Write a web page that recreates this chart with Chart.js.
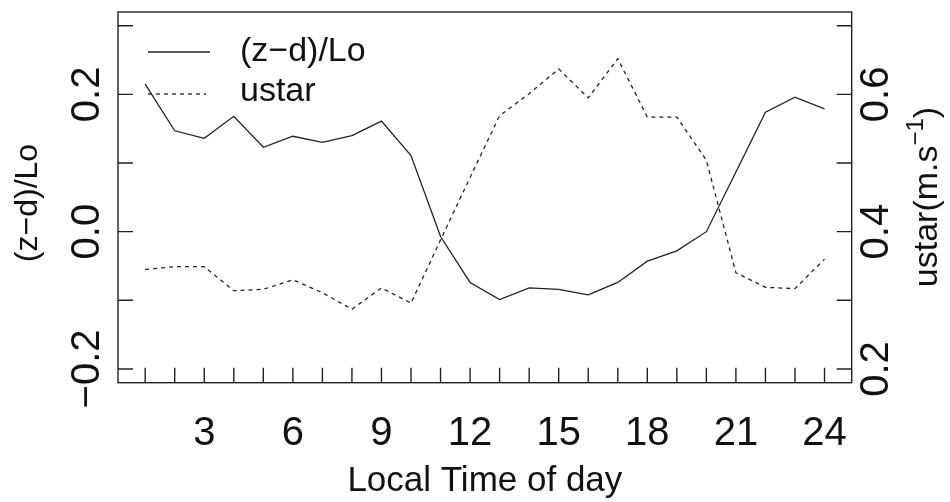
<!DOCTYPE html>
<html>
<head>
<meta charset="utf-8">
<script src="https://cdn.jsdelivr.net/npm/chart.js@4.4.0/dist/chart.umd.min.js"></script>
<style>
  html, body { margin: 0; padding: 0; background: #fff; }
  #wrap { width: 950px; height: 502px; }
</style>
</head>
<body>
<div id="wrap"><canvas id="c" width="950" height="502"></canvas></div>
<script>
// === DATA ===
const hours = [1, 2, 3, 4, 5, 6, 7, 8, 9, 10, 11, 12, 13, 14, 15, 16, 17, 18, 19, 20, 21, 22, 23, 24];
const zdLo = [0.215, 0.147, 0.136, 0.168, 0.123, 0.139, 0.130, 0.140, 0.161, 0.111, -0.007, -0.074,
              -0.099, -0.082, -0.084, -0.092, -0.074, -0.043, -0.028, 0.000, 0.087, 0.174, 0.196, 0.179];
const ustar = [0.345, 0.349, 0.349, 0.314, 0.316, 0.330, 0.311, 0.287, 0.318, 0.296, 0.388, 0.479,
               0.569, 0.601, 0.637, 0.595, 0.652, 0.567, 0.567, 0.504, 0.340, 0.319, 0.317, 0.360];
const xTicks = hours;
const xLabels = [3, 6, 9, 12, 15, 18, 21, 24];
const leftTicks = [-0.2, -0.1, 0.0, 0.1, 0.2, 0.3];
const leftLabels = [-0.2, 0.0, 0.2];
const rightTicks = [0.2, 0.3, 0.4, 0.5, 0.6, 0.7];
const rightLabels = [0.2, 0.4, 0.6];

const ink = '#222';
const fontFam = '"Liberation Sans", Arial, sans-serif';

function fmt(v) {
  const s = Math.abs(v).toFixed(1);
  return v < 0 ? '\u2212' + s : s;
}

// === R-STYLE AXES, BOX, LEGEND ===
const rStyle = {
  id: 'rStyle',
  afterDraw(chart) {
    const ctx = chart.ctx;
    const a = chart.chartArea;
    const sx = chart.scales.x, sy = chart.scales.y, sy1 = chart.scales.y1;
    const tl = 15;
    ctx.save();
    ctx.strokeStyle = ink;
    ctx.fillStyle = '#111';
    ctx.lineWidth = 1.4;
    ctx.setLineDash([]);
    ctx.strokeRect(a.left, a.top, a.right - a.left, a.bottom - a.top);

    ctx.beginPath();
    xTicks.forEach(v => {
      const px = sx.getPixelForValue(v);
      ctx.moveTo(px, a.bottom); ctx.lineTo(px, a.bottom - tl);
    });
    leftTicks.forEach(v => {
      const py = sy.getPixelForValue(v);
      ctx.moveTo(a.left, py); ctx.lineTo(a.left + tl, py);
    });
    rightTicks.forEach(v => {
      const py = sy1.getPixelForValue(v);
      ctx.moveTo(a.right, py); ctx.lineTo(a.right - tl, py);
    });
    ctx.stroke();

    // tick labels
    ctx.font = '40px ' + fontFam;
    ctx.textAlign = 'center';
    ctx.textBaseline = 'middle';
    xLabels.forEach(v => {
      ctx.fillText(String(v), sx.getPixelForValue(v), 434);
    });
    const rot = (txt, x, y) => {
      ctx.save(); ctx.translate(x, y); ctx.rotate(-Math.PI / 2);
      ctx.fillText(txt, 0, 0); ctx.restore();
    };
    leftLabels.forEach(v => rot(fmt(v), 88, sy.getPixelForValue(v)));
    rightLabels.forEach(v => rot(fmt(v), 877, sy1.getPixelForValue(v)));

    // axis titles
    ctx.font = '35px ' + fontFam;
    ctx.textBaseline = 'alphabetic';
    ctx.fillText('Local Time of day', (a.left + a.right) / 2, 491);
    ctx.font = '32px ' + fontFam;
    ctx.textBaseline = 'middle';
    rot('(z\u2212d)/Lo', 28, 203);

    // right title with superscript
    ctx.save();
    ctx.translate(928, 197);
    ctx.rotate(-Math.PI / 2);
    const big = '34px ' + fontFam, small = '24px ' + fontFam;
    ctx.font = big;
    const p1 = 'ustar(m.s', p3 = ')';
    const w1 = ctx.measureText(p1).width, w3 = ctx.measureText(p3).width;
    ctx.font = small;
    const p2 = '\u22121';
    const w2 = ctx.measureText(p2).width;
    let x0 = -(w1 + w2 + w3) / 2;
    ctx.textAlign = 'left';
    ctx.font = big; ctx.fillText(p1, x0, 0);
    ctx.font = small; ctx.fillText(p2, x0 + w1, -12);
    ctx.font = big; ctx.fillText(p3, x0 + w1 + w2, 0);
    ctx.restore();

    // legend
    ctx.lineWidth = 1.3;
    ctx.beginPath(); ctx.moveTo(148, 52); ctx.lineTo(210, 52); ctx.stroke();
    ctx.setLineDash([4, 4]);
    ctx.beginPath(); ctx.moveTo(148, 94); ctx.lineTo(206, 94); ctx.stroke();
    ctx.setLineDash([]);
    ctx.font = '34px ' + fontFam;
    ctx.textAlign = 'left';
    ctx.textBaseline = 'middle';
    ctx.fillText('(z\u2212d)/Lo', 240, 52);
    ctx.fillText('ustar', 240, 92);
    ctx.restore();
  }
};

const hidden = {
  ticks: { display: false },
  grid: { display: false, drawTicks: false },
  border: { display: false },
  title: { display: false }
};

const ctx = document.getElementById('c').getContext('2d');
new Chart(ctx, {
  type: 'line',
  data: {
    datasets: [
      {
        label: '(z\u2212d)/Lo',
        data: hours.map((h, i) => ({ x: h, y: zdLo[i] })),
        yAxisID: 'y',
        borderColor: ink,
        borderWidth: 1.3,
        pointRadius: 0,
        tension: 0,
        fill: false
      },
      {
        label: 'ustar',
        data: hours.map((h, i) => ({ x: h, y: ustar[i] })),
        yAxisID: 'y1',
        borderColor: ink,
        borderWidth: 1.3,
        borderDash: [4, 4],
        pointRadius: 0,
        tension: 0,
        fill: false
      }
    ]
  },
  options: {
    responsive: false,
    animation: false,
    layout: { padding: { top: 12, left: 0, right: 0, bottom: 0 } },
    plugins: { legend: { display: false }, tooltip: { enabled: false } },
    scales: {
      x: Object.assign({ type: 'linear', min: 0.08, max: 24.92,
        afterFit: s => { s.height = 119.3; } }, hidden),
      y: Object.assign({ type: 'linear', position: 'left', min: -0.22, max: 0.32,
        afterFit: s => { s.width = 118; } }, hidden),
      y1: Object.assign({ type: 'linear', position: 'right', min: 0.18, max: 0.72,
        afterFit: s => { s.width = 98.3; } }, hidden)
    }
  },
  plugins: [rStyle]
});
</script>
</body>
</html>
